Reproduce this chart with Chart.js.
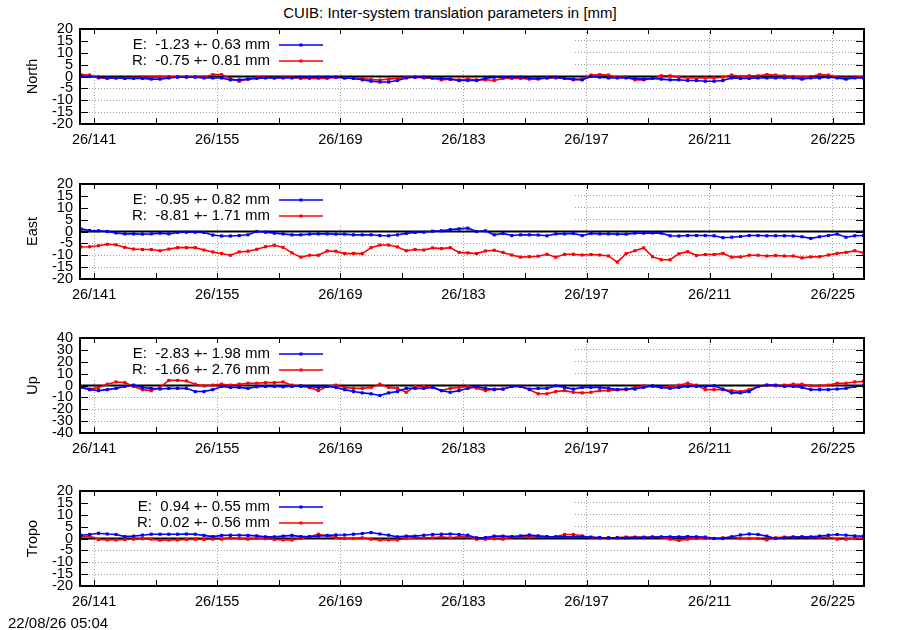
<!DOCTYPE html>
<html>
<head>
<meta charset="utf-8">
<script src="https://cdn.jsdelivr.net/npm/chart.js@4.4.1/dist/chart.umd.min.js"></script>
<style>
  body { margin: 0; background: #fff; width: 900px; height: 630px; position: relative; overflow: hidden;
         font-family: "Liberation Sans", Arial, sans-serif; color: #000; }
  #titulo { position: absolute; top: 4px; left: 0; width: 900px; text-align: center; font-size: 15px; line-height: 17px; }
  #fecha { position: absolute; left: 8px; top: 614px; font-size: 15px; line-height: 17px; }
  .panel { position: absolute; left: 0; width: 900px; height: 145px; }
</style>
</head>
<body>
<div id="titulo">CUIB: Inter-system translation parameters in [mm]</div>
<div class="panel" style="top:9px"><canvas id="g0" width="900" height="145"></canvas></div>
<div class="panel" style="top:164px"><canvas id="g1" width="900" height="145"></canvas></div>
<div class="panel" style="top:318px"><canvas id="g2" width="900" height="145"></canvas></div>
<div class="panel" style="top:471px"><canvas id="g3" width="900" height="145"></canvas></div>
<div id="fecha">22/08/26 05:04</div>
<script>
// dias del año (26/xxx), una muestra por dia
const primerDia = 139.5;
const numDias = 90;
const dias = [];
for (let i = 0; i < numDias; i++) dias.push(primerDia + i);

const ticksX = [141, 155, 169, 183, 197, 211, 225];
const ticksXMenores = [148, 162, 176, 190, 204, 218];
const ticksY20 = [-20, -15, -10, -5, 0, 5, 10, 15, 20];
const ticksY40 = [-40, -30, -20, -10, 0, 10, 20, 30, 40];

// North
const northE = [0,0,-0.3,-0.6,-0.6,-0.8,-0.8,-0.8,-1.1,-1.1,-0.6,-0.3,-0.3,-0.3,-0.6,-0.6,-0.6,-1.4,-1.4,-1.1,-0.8,-0.6,-0.6,-0.6,-0.6,-0.3,-0.3,-0.3,-0.3,-0.3,-0.6,-0.8,-1.4,-2.0,-2.3,-2.3,-1.7,-0.6,-0.3,-0.3,-0.6,-0.8,-1.1,-1.7,-1.7,
  -1.7,-0.8,-0.3,-0.3,-0.3,-0.3,-0.6,-0.8,-0.6,-0.3,-0.8,-1.1,-1.4,0,-0.3,-0.6,-0.6,-0.6,-0.8,-1.1,-0.8,-1.1,-1.4,-1.4,-1.7,-1.7,-2.0,-2.0,-1.7,-0.6,-0.8,-0.8,-0.6,-0.6,-0.6,-0.6,-0.6,-1.1,-0.6,-0.6,-0.3,-0.6,-1.1,-0.6,-0.6];
const northR = [0.8,0.6,-0.6,-0.8,-0.6,-0.6,-0.6,-0.3,-0.3,-0.1,-0.1,-0.1,-0.1,-0.1,-0.3,0.8,0.8,-0.8,-2.0,-1.1,-0.3,-0.3,-0.6,-0.3,-0.3,-0.8,-0.8,-0.7,-0.8,-0.3,-0.6,-0.8,-0.8,-1.3,-1.5,-1.1,-0.8,-0.3,-0.3,-0.6,-0.8,-1.4,-1.1,-1.4,-1.1,
  -1.4,-1.4,-1.7,-0.8,-0.8,-0.8,-1.1,-1.1,-0.6,-0.6,-0.8,-1.4,-1.1,0.6,0.8,0.6,-0.3,-0.3,-1.4,-1.4,-0.8,0.3,0.3,-0.3,-0.6,-0.6,-0.6,-0.6,-0.3,0.6,0,0.3,0.3,0.8,0.6,0.3,0,-0.3,0,0.8,0.6,-0.3,-0.6,-0.3,0];

// East
const eastE = [1.1,0.4,0.3,0,-0.6,-1.0,-1.0,-1.1,-1.0,-0.7,-1.0,-0.4,-0.3,-0.3,-0.4,-1.5,-1.9,-1.9,-1.7,-1.4,0,-0.3,-0.7,-1.0,-1.4,-1.4,-1.1,-1.0,-1.0,-1.1,-1.1,-1.4,-1.4,-1.4,-1.7,-1.8,-1.4,-0.8,-0.4,-0.3,0.1,0.3,0.8,1.1,1.4,
  0,0.3,-1.4,-0.8,-1.7,-1.4,-1.4,-1.5,-1.8,-1.0,-1.0,-0.8,-1.7,-0.8,-1.0,-1.0,-1.1,-1.1,-0.7,-0.7,-0.6,-0.7,-1.8,-1.9,-1.7,-1.7,-1.7,-1.8,-2.6,-2.4,-2.1,-1.7,-1.7,-1.8,-1.8,-1.8,-1.9,-2.2,-2.9,-2.2,-1.7,-1.1,-2.4,-1.8,-1.7];
const eastR = [-6.5,-6.4,-6.0,-5.4,-5.6,-6.7,-7.4,-7.6,-7.6,-8.1,-7.4,-6.8,-6.8,-6.8,-7.8,-8.6,-9.3,-10.0,-8.6,-8.3,-7.5,-6.4,-5.8,-6.7,-9.0,-10.8,-10.0,-10.0,-8.2,-8.3,-9.3,-9.2,-9.3,-6.8,-5.7,-5.7,-6.5,-8.1,-7.6,-7.8,-6.9,-7.2,-6.8,-8.8,-9.0,
  -9.3,-8.2,-7.9,-8.8,-9.9,-10.8,-10.6,-10.4,-9.6,-10.8,-9.6,-9.6,-9.9,-9.7,-9.9,-10.3,-12.9,-9.3,-8.1,-6.9,-10.6,-11.9,-11.9,-9.4,-8.5,-10.1,-9.7,-9.7,-9.2,-10.8,-10.7,-10.0,-10.0,-10.3,-10.1,-10.3,-10.3,-11.1,-10.7,-10.6,-9.9,-9.2,-8.8,-8.1,-9.0];

// Up
const upE = [-1.6,-3.5,-4.3,-3.5,-2.4,-0.8,0.3,-1.6,-2.4,-3.0,-2.4,-2.4,-2.4,-5.1,-5.1,-3.5,-0.8,-1.6,-1.6,-2.4,-1.1,-0.8,-0.8,-1.1,-0.8,-0.3,-0.8,-1.6,-0.8,-1.6,-3.5,-5.1,-6.2,-7.0,-8.4,-6.2,-5.1,-2.4,-2.4,-2.4,-1.6,-4.3,-5.7,-4.3,-2.4,
  -0.8,-2.4,-3.5,-3.0,-0.8,-0.8,-3.0,-2.4,-2.4,-0.3,-1.6,-3.0,-1.6,-1.6,-1.6,-2.4,-3.5,-3.0,-3.0,-1.6,-0.3,-1.6,-2.4,-1.6,-0.8,-0.8,-0.8,-0.3,-3.0,-6.2,-6.2,-5.1,-0.8,0.3,0.3,-0.8,-0.8,-1.6,-3.5,-3.5,-3.5,-3.0,-2.4,-0.8,-0.3];
const upR = [-0.8,-3.0,-1.6,1.1,3.0,2.4,-0.8,-3.5,-4.3,-1.6,4.3,4.3,3.8,1.1,-0.3,0.3,1.1,0.3,1.1,1.9,1.9,2.4,2.4,3.0,0.3,-0.8,-1.6,-4.3,-0.8,0.3,-1.6,-2.4,-2.4,-1.6,1.1,-1.6,-2.4,-5.7,-0.8,-0.8,-1.6,-4.3,-2.4,-1.6,-0.8,
  -2.2,-4.3,-3.0,-3.0,-0.8,-0.8,-3.5,-7.0,-7.0,-5.1,-4.3,-5.7,-6.2,-5.7,-4.3,-4.3,-3.5,-3.5,-1.6,-0.3,-0.8,-1.6,-0.8,0.3,1.9,0.3,-3.5,-3.5,-3.5,-4.3,-5.1,-3.5,-0.8,0.3,-0.3,0.3,1.1,1.1,-0.3,-0.3,0.3,1.9,1.9,3.0,3.5];

// Tropo
const tropoE = [1.4,1.7,2.2,1.9,1.7,0.8,1.0,1.4,1.8,1.8,1.8,1.8,1.9,1.8,1.3,0.8,1.3,1.4,1.4,1.3,1.1,0.7,0.7,1.0,1.3,0.8,0.8,1.0,1.3,1.5,1.5,1.8,2.1,2.5,1.9,1.4,0.7,1.0,1.0,1.4,1.7,1.8,1.9,1.7,1.4,
  0.3,0.4,1.0,1.0,0.8,1.1,1.5,1.1,0.8,0.7,0.7,0.7,0.7,0.6,0.4,0.3,0.3,0.3,0.4,0.4,0.6,0.7,0.7,0.7,0.8,0.7,0.6,0,0,0.7,1.5,1.9,1.7,1.0,0,0.3,0.6,0.7,0.7,1.0,1.4,1.7,1.4,1.1,1.0];
const tropoR = [0.7,1.0,-0.4,-0.6,-0.6,-0.4,-0.3,-0.1,-0.3,-0.7,-0.6,-0.6,-0.4,-0.3,-0.4,-0.3,-0.3,0.3,0,-0.3,0,-0.1,-0.4,-0.6,-0.6,0,0.7,1.8,1.0,0.4,0,0,0.3,-0.3,-0.6,-0.6,-0.6,0,0.3,0.3,0.3,0.7,0.3,0.7,0.7,
  -0.3,-0.3,-0.1,-0.3,0.6,0.7,0.7,0.8,0.7,0.8,1.7,1.7,1.1,0.3,0.3,0.3,0.4,0.6,0.6,0.6,0.6,0.4,-0.3,-0.8,-0.3,0,0,0,0.3,0.6,0,0,0,-0.6,0.3,0.6,0.6,0.6,0.4,0.4,0.6,-0.3,-0.3,0,0];

const paneles = [
  { id: 'g0', nombre: 'North', e: northE, r: northR, ticksY: ticksY20, leyE: 'E:  -1.23 +- 0.63 mm', leyR: 'R:  -0.75 +- 0.81 mm' },
  { id: 'g1', nombre: 'East',  e: eastE,  r: eastR,  ticksY: ticksY20, leyE: 'E:  -0.95 +- 0.82 mm', leyR: 'R:  -8.81 +- 1.71 mm' },
  { id: 'g2', nombre: 'Up',    e: upE,    r: upR,    ticksY: ticksY40, leyE: 'E:  -2.83 +- 1.98 mm', leyR: 'R:  -1.66 +- 2.76 mm' },
  { id: 'g3', nombre: 'Tropo', e: tropoE, r: tropoR, ticksY: ticksY20, leyE: 'E:  0.94 +- 0.55 mm',  leyR: 'R:  0.02 +- 0.56 mm' }
];

const AZUL = '#0000ff';
const ROJO = '#ff0000';
const fuente = '"Liberation Sans", Arial, sans-serif';
Chart.defaults.font.family = fuente;
Chart.defaults.color = '#000';

// marco tipo gnuplot: caja opaca de la leyenda, linea cero, borde, ticks hacia dentro y leyenda
const marcoGnuplot = {
  id: 'marcoGnuplot',
  beforeDatasetsDraw(chart) {
    const { ctx, chartArea: a, scales } = chart;
    ctx.save();
    ctx.fillStyle = '#fff';
    ctx.fillRect(a.left + 1, a.top + 1, 493, 41);
    const y0 = scales.y.getPixelForValue(0);
    ctx.strokeStyle = '#000';
    ctx.lineWidth = 2;
    ctx.beginPath();
    ctx.moveTo(a.left, y0);
    ctx.lineTo(a.right, y0);
    ctx.stroke();
    ctx.restore();
  },
  afterDatasetsDraw(chart) {
    const { ctx, chartArea: a, scales } = chart;
    ctx.save();
    ctx.strokeStyle = '#000';
    ctx.lineWidth = 1;
    ctx.beginPath();
    scales.y.ticks.forEach(t => {
      const y = Math.round(scales.y.getPixelForValue(t.value)) + 0.5;
      ctx.moveTo(a.left, y); ctx.lineTo(a.left + 8, y);
      ctx.moveTo(a.right, y); ctx.lineTo(a.right - 8, y);
    });
    ticksX.concat(ticksXMenores).forEach(v => {
      const x = Math.round(scales.x.getPixelForValue(v)) + 0.5;
      ctx.moveTo(x, a.bottom); ctx.lineTo(x, a.bottom - 6);
      ctx.moveTo(x, a.top); ctx.lineTo(x, a.top + 5);
    });
    ctx.stroke();
    ctx.lineWidth = 2;
    ctx.strokeRect(a.left, a.top, a.right - a.left, a.bottom - a.top);

    // leyenda
    ctx.font = '15px ' + fuente;
    ctx.textAlign = 'right';
    ctx.textBaseline = 'middle';
    chart.data.datasets.forEach((ds, i) => {
      const y = a.top + 16 + i * 16;
      ctx.fillStyle = '#000';
      ctx.fillText(ds.label, 270, y);
      ctx.strokeStyle = ds.borderColor;
      ctx.lineWidth = 1.6;
      ctx.beginPath();
      ctx.moveTo(279, y); ctx.lineTo(323, y);
      ctx.stroke();
      ctx.fillStyle = ds.borderColor;
      ctx.fillRect(299.5, y - 1.5, 3, 3);
    });
    ctx.restore();
  }
};

function serie(valores) {
  return dias.map((d, i) => ({ x: d, y: valores[i] }));
}

paneles.forEach(p => {
  const limite = p.ticksY[p.ticksY.length - 1];
  new Chart(document.getElementById(p.id), {
    type: 'line',
    data: {
      datasets: [
        { label: p.leyE, data: serie(p.e), borderColor: AZUL, backgroundColor: AZUL,
          borderWidth: 1.6, pointStyle: 'rect', pointRadius: 2.2, pointBorderWidth: 0, tension: 0, fill: false },
        { label: p.leyR, data: serie(p.r), borderColor: ROJO, backgroundColor: ROJO,
          borderWidth: 1.6, pointStyle: 'rect', pointRadius: 2.2, pointBorderWidth: 0, tension: 0, fill: false }
      ]
    },
    options: {
      responsive: false,
      animation: false,
      events: [],
      layout: { padding: { top: 20, right: 36, left: 0, bottom: 0 } },
      plugins: { legend: { display: false }, tooltip: { enabled: false } },
      scales: {
        x: {
          type: 'linear',
          min: 139.4,
          max: 228.55,
          afterBuildTicks: s => { s.ticks = ticksX.map(v => ({ value: v })); },
          afterFit: s => { s.height = 30; },
          ticks: { callback: v => '26/' + v, font: { size: 14.5 }, padding: 7, maxRotation: 0, autoSkip: false },
          grid: { color: '#a0a0a0', lineWidth: 1, drawTicks: false },
          border: { display: false, dash: [1, 2] }
        },
        y: {
          min: -limite,
          max: limite,
          afterBuildTicks: s => { s.ticks = p.ticksY.map(v => ({ value: v })); },
          afterFit: s => { s.width = 80; },
          ticks: { font: { size: 14.5 }, padding: 7, autoSkip: false },
          grid: {
            color: c => (c.tick && (c.tick.value === 0 || Math.abs(c.tick.value) === limite)) ? 'rgba(0,0,0,0)' : '#a0a0a0',
            lineWidth: 1,
            drawTicks: false
          },
          border: { display: false, dash: [1, 2] },
          title: { display: true, text: p.nombre, font: { size: 14.5 }, padding: { top: 24, bottom: 0 } }
        }
      }
    },
    plugins: [marcoGnuplot]
  });
});
</script>
</body>
</html>
